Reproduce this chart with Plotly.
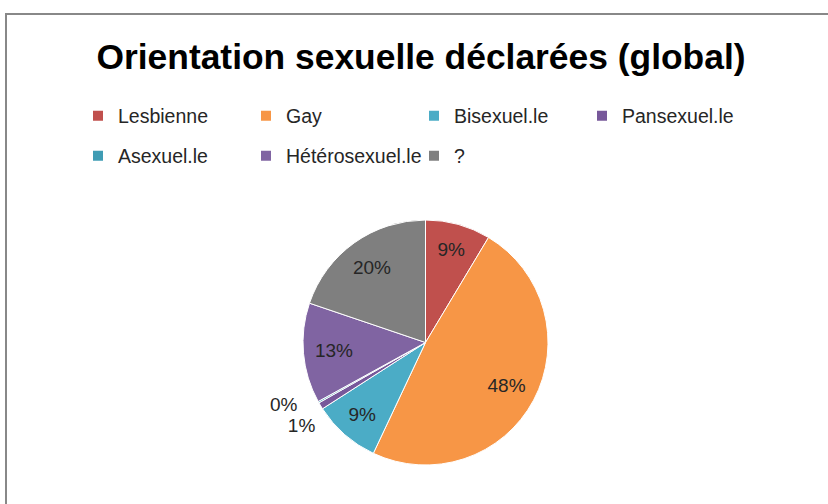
import plotly.graph_objects as go

labels = ["Lesbienne", "Gay", "Bisexuel.le", "Pansexuel.le", "Asexuel.le", "Hétérosexuel.le", "?"]
values = [8.6, 48.4, 8.9, 0.9, 0.2, 13.2, 19.8]
colors = ["#C0504D", "#F79646", "#4BACC6", "#77589A", "#3F9CB4", "#8064A2", "#7F7F7F"]
text_pos = ["inside", "inside", "inside", "outside", "outside", "inside", "inside"]
legend_rows = ["legend"] * 4 + ["legend2"] * 3
title_text = "Orientation sexuelle déclarées (global)"

W, H = 828, 504
pie_domain = dict(x=[303 / W, 548 / W], y=[1 - 465 / H, 1 - 220 / H])

# percentage label template; the Asexuel.le label is nudged left with trailing spaces
templates = ["%{percent:.0%}"] * len(labels)
templates[4] = "%{percent:.0%}\u00a0\u00a0\u00a0"

fig = go.Figure()
# coloured slices
fig.add_trace(go.Pie(
    labels=labels, values=values, sort=False, direction="clockwise", rotation=0,
    marker=dict(colors=colors, line=dict(color="white", width=1)),
    textinfo="none", showlegend=False, hoverinfo="skip", domain=pie_domain,
))
# percentage labels (transparent ring so labels sit at ~3/4 radius like Excel)
fig.add_trace(go.Pie(
    labels=labels, values=values, sort=False, direction="clockwise", rotation=0,
    hole=0.5,
    marker=dict(colors=["rgba(0,0,0,0)"] * len(labels), line=dict(width=0)),
    texttemplate=templates, textposition=text_pos,
    insidetextorientation="horizontal",
    textfont=dict(family="Liberation Sans", size=19, color="#262626"),
    showlegend=False, hoverinfo="skip", domain=pie_domain,
))

for lab, col, leg in zip(labels, colors, legend_rows):
    fig.add_trace(go.Scatter(
        x=[None], y=[None], mode="markers", name=lab, legend=leg,
        marker=dict(symbol="square", size=10, color=col),
        hoverinfo="skip",
    ))

legend_common = dict(
    orientation="h", xanchor="left", yanchor="middle",
    entrywidth=123, entrywidthmode="pixels",
    font=dict(family="Liberation Sans", size=19.5, color="#262626"),
    bgcolor="rgba(0,0,0,0)", borderwidth=0, itemclick=False,
)

fig.update_layout(
    width=W, height=H,
    margin=dict(l=0, r=0, t=0, b=0, autoexpand=False),
    paper_bgcolor="white", plot_bgcolor="white",
    xaxis=dict(visible=False), yaxis=dict(visible=False),
    title=dict(text="<b>" + title_text + "</b>", x=421 / W, y=1 - 57 / H,
               xanchor="center", yanchor="middle",
               font=dict(family="Liberation Sans", size=35.4, color="#000000")),
    legend=dict(x=78 / W, y=1 - 116 / H, **legend_common),
    legend2=dict(x=78 / W, y=1 - 156 / H, **legend_common),
    shapes=[dict(type="rect", xref="paper", yref="paper",
                 x0=6 / W, x1=1.02, y0=-0.02, y1=1 - 14 / H,
                 line=dict(color="#888888", width=2), fillcolor="rgba(0,0,0,0)")],
)

post = (
    "document.body.style.margin='0';"
    "document.querySelectorAll('path.textline').forEach(function(p){p.style.display='none';});"
)
fig.write_html("out.html", post_script=post, config={"displayModeBar": False})
